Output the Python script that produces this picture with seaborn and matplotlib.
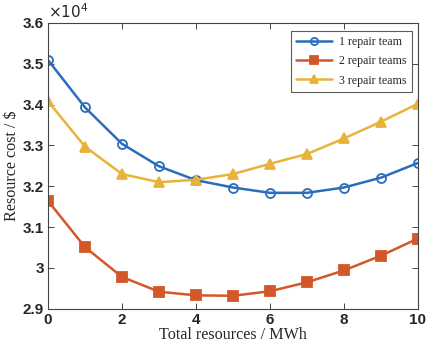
import numpy as np
import pandas as pd
import matplotlib
matplotlib.use("Agg")
import matplotlib.pyplot as plt
import seaborn as sns
from matplotlib.ticker import FuncFormatter

sns.set_style("white")
plt.rcParams['font.family'] = ['Liberation Serif', 'DejaVu Serif']

# --- data (resource cost in $) ---
resources = [0, 1, 2, 3, 4, 5, 6, 7, 8, 9, 10]
team1 = [35090, 33930, 33040, 32490, 32150, 31970, 31840, 31840, 31970, 32210, 32570]
team2 = [31640, 30510, 29780, 29420, 29330, 29320, 29430, 29650, 29940, 30300, 30720]
team3 = [34080, 32970, 32300, 32100, 32160, 32300, 32550, 32790, 33170, 33580, 34020]
series_names = ['1 repair team', '2 repair teams', '3 repair teams']

df = pd.DataFrame({
    'x': resources * 3,
    'cost': np.array(team1 + team2 + team3) / 1e4,
    'team': sum([[n] * len(resources) for n in series_names], []),
})

colors = {'1 repair team': '#2A6EBB', '2 repair teams': '#D2582A', '3 repair teams': '#E8B33A'}
markers = {'1 repair team': 'o', '2 repair teams': 's', '3 repair teams': '^'}

fig = plt.figure(figsize=(4.29, 3.47), dpi=100)
ax = fig.add_axes([0.112, 0.11, 0.862, 0.824])

for name in series_names:
    sub = df[df['team'] == name]
    mfc = 'none' if name == '1 repair team' else colors[name]
    sns.lineplot(data=sub, x='x', y='cost', ax=ax, color=colors[name],
                 marker=markers[name], markersize=6.5, markerfacecolor=mfc,
                 markeredgecolor=colors[name], markeredgewidth=1.3,
                 linewidth=1.8, label=name)

ax.set_xlim(0, 10)
ax.set_ylim(2.9, 3.6)
ax.set_xticks([0, 2, 4, 6, 8, 10])
ax.set_yticks([2.9, 3.0, 3.1, 3.2, 3.3, 3.4, 3.5, 3.6])
ax.yaxis.set_major_formatter(FuncFormatter(lambda v, p: '%g' % round(v, 2)))

for lab in ax.get_xticklabels() + ax.get_yticklabels():
    lab.set_fontfamily('Liberation Sans')
    lab.set_fontweight('bold')
    lab.set_fontsize(11)

ax.tick_params(direction='in', length=4, width=0.7, color='#444444',
               top=True, right=True, bottom=True, left=True, pad=3)
for s in ax.spines.values():
    s.set_color('#444444')
    s.set_linewidth(0.8)

ax.set_xlabel('Total resources / MWh', fontsize=11.6, labelpad=0)
ax.set_ylabel('Resource cost / \\$', fontsize=11.6, labelpad=2)

ax.text(0.0, 1.005, r'$\times10^4$', transform=ax.transAxes, fontsize=11,
        fontfamily='Liberation Sans', ha='left', va='bottom')

leg = ax.legend(loc='upper right', bbox_to_anchor=(0.984, 0.972), borderaxespad=0,
                fontsize=8.6, frameon=True, fancybox=False, edgecolor='#333333',
                handlelength=3.0, handletextpad=0.6, borderpad=0.45,
                labelspacing=0.6, markerscale=0.8)
leg.get_frame().set_linewidth(0.8)

fig.savefig('out.png', dpi=100)
